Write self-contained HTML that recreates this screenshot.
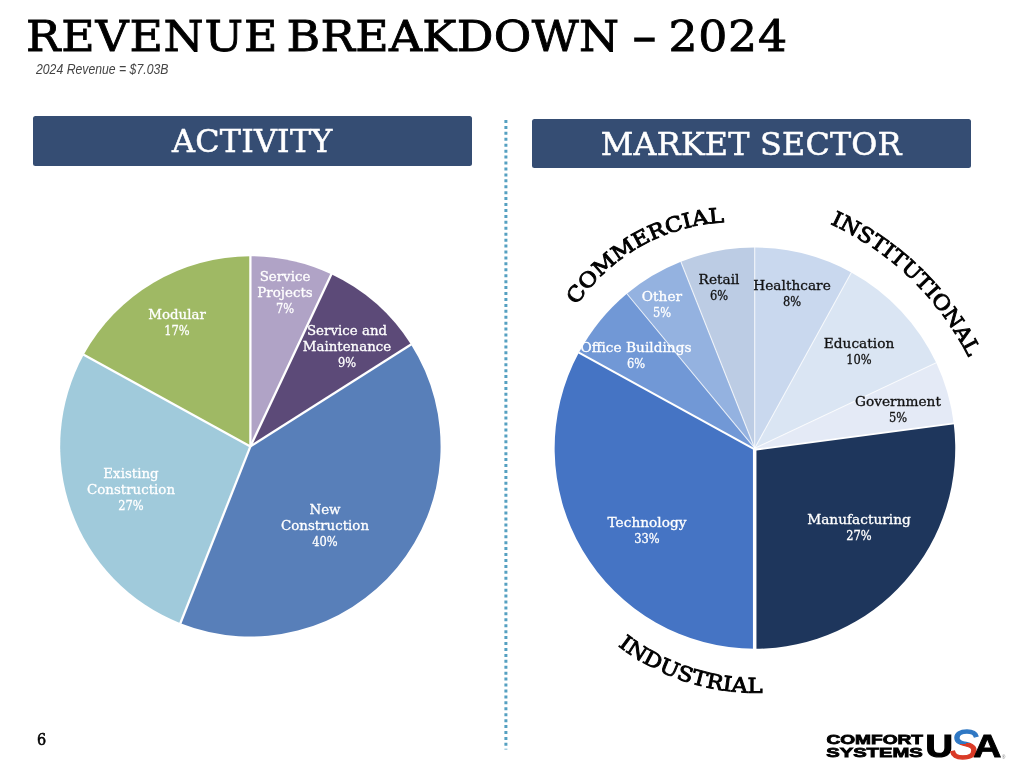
<!DOCTYPE html>
<html lang="en"><head><meta charset="utf-8"><title>Revenue Breakdown – 2024</title>
<style>
html,body{margin:0;padding:0;background:#fff;}
body{width:1024px;height:774px;position:relative;overflow:hidden;font-family:"DejaVu Serif", "Liberation Serif", serif;}
.abs{position:absolute;white-space:nowrap;}
#title{left:26px;top:8px;font-size:45.8px;line-height:54px;color:#000;-webkit-text-stroke:0.9px #000;transform:scaleY(0.945);transform-origin:0 41.5px;}
#sub{left:35.5px;top:59.5px;font-family:"Liberation Sans", sans-serif;font-style:italic;font-size:15.5px;line-height:18px;color:#444;transform:scaleX(0.79);transform-origin:0 0;}
.bar{position:absolute;background:#354d73;border-radius:2.5px;color:#fff;text-align:center;font-size:31.8px;letter-spacing:0.2px;-webkit-text-stroke:0.5px #fff;}
#bar1{left:33px;top:116.2px;width:438.6px;height:49.7px;line-height:50px;}
#bar2{left:532px;top:118.6px;width:438.6px;height:49.5px;line-height:50px;}
#pg{left:36.5px;top:728.5px;font-size:17px;line-height:20px;color:#000;transform:scaleX(0.85);transform-origin:0 0;-webkit-text-stroke:0.6px #000;}
svg text{font-family:"DejaVu Serif", "Liberation Serif", serif;}
svg .lg text{font-family:"Liberation Sans", sans-serif;}
</style></head><body>
<div id="title" class="abs"><span style="letter-spacing:0.8px">REVENUE</span> <span style="letter-spacing:0.3px;margin-left:-6.2px">BREAKDOWN</span> <span style="-webkit-text-stroke:1.7px #000;margin-left:-1.1px">–</span> <span style="letter-spacing:0.7px;margin-left:-2px">2024</span></div>
<div id="sub" class="abs">2024 Revenue = $7.03B</div>
<div id="bar1" class="bar">ACTIVITY</div>
<div id="bar2" class="bar">MARKET SECTOR</div>
<svg class="abs" style="left:0;top:0" width="1024" height="774" viewBox="0 0 1024 774">
<defs><path id="pc" d="M571.45,313.77 A189.60,189.60 0 0 1 734.13,222.10"/><path id="pi" d="M816.10,217.72 A291.00,291.00 0 0 1 974.96,371.13"/><path id="pd" d="M608.78,638.28 A225.00,225.00 0 0 0 774.33,691.91"/></defs>
<line x1="505.9" y1="120" x2="505.9" y2="749.6" stroke="#55a0c1" stroke-width="3" stroke-dasharray="3 2.932"/>
<path d="M250.40,446.40 L250.40,256.20 A190.20,190.20 0 0 1 331.38,274.30 Z" fill="#b0a3c6"/>
<path d="M250.40,446.40 L331.38,274.30 A190.20,190.20 0 0 1 410.99,344.49 Z" fill="#5c4a78"/>
<path d="M250.40,446.40 L410.99,344.49 A190.20,190.20 0 0 1 180.38,623.24 Z" fill="#587fb9"/>
<path d="M250.40,446.40 L180.38,623.24 A190.20,190.20 0 0 1 83.73,354.77 Z" fill="#a0cadb"/>
<path d="M250.40,446.40 L83.73,354.77 A190.20,190.20 0 0 1 250.40,256.20 Z" fill="#9fb964"/>
<line x1="250.40" y1="446.40" x2="250.40" y2="255.70" stroke="#fff" stroke-width="2.3" stroke-linecap="butt"/>
<line x1="250.40" y1="446.40" x2="331.60" y2="273.85" stroke="#fff" stroke-width="2.3" stroke-linecap="butt"/>
<line x1="250.40" y1="446.40" x2="411.41" y2="344.22" stroke="#fff" stroke-width="2.3" stroke-linecap="butt"/>
<line x1="250.40" y1="446.40" x2="180.20" y2="623.71" stroke="#fff" stroke-width="2.3" stroke-linecap="butt"/>
<line x1="250.40" y1="446.40" x2="83.29" y2="354.53" stroke="#fff" stroke-width="2.3" stroke-linecap="butt"/>
<path d="M754.70,448.20 L754.70,247.60 A200.60,200.60 0 0 1 851.34,272.41 L754.70,448.20 Z" fill="#c9d8ee"/>
<path d="M754.70,448.20 L851.34,272.41 A200.60,200.60 0 0 1 936.21,362.79 L754.70,448.20 Z" fill="#dae5f3"/>
<path d="M754.70,448.20 L936.21,362.79 A200.60,200.60 0 0 1 953.72,423.46 L754.70,449.80 Z" fill="#e4eaf6"/>
<path d="M754.70,449.80 L953.72,423.46 A200.60,200.60 0 0 1 754.70,648.80 L754.70,448.20 Z" fill="#1e365c"/>
<path d="M754.70,448.20 L754.70,648.80 A200.60,200.60 0 0 1 578.91,352.56 L754.70,449.40 Z" fill="#4574c4"/>
<path d="M754.70,449.40 L578.91,352.56 A200.60,200.60 0 0 1 626.83,293.64 L754.70,448.20 Z" fill="#7198d6"/>
<path d="M754.70,448.20 L626.83,293.64 A200.60,200.60 0 0 1 680.85,261.69 L754.70,448.20 Z" fill="#94b2e0"/>
<path d="M754.70,448.20 L680.85,261.69 A200.60,200.60 0 0 1 754.70,247.60 L754.70,448.20 Z" fill="#bccce4"/>
<line x1="754.70" y1="448.20" x2="754.70" y2="247.10" stroke="#fff" stroke-opacity="0.7" stroke-width="1.15"/>
<line x1="754.70" y1="448.20" x2="851.58" y2="271.97" stroke="#fff" stroke-opacity="0.7" stroke-width="1.15"/>
<line x1="754.70" y1="448.20" x2="936.66" y2="362.58" stroke="#fff" stroke-opacity="0.7" stroke-width="1.15"/>
<line x1="754.70" y1="449.80" x2="954.21" y2="423.40" stroke="#fff" stroke-width="1.9"/>
<line x1="754.70" y1="448.20" x2="754.70" y2="649.30" stroke="#fff" stroke-width="3.5"/>
<line x1="754.70" y1="449.40" x2="578.47" y2="352.32" stroke="#fff" stroke-width="2.1"/>
<line x1="754.70" y1="448.20" x2="626.51" y2="293.25" stroke="#fff" stroke-opacity="0.7" stroke-width="1.15"/>
<line x1="754.70" y1="448.20" x2="680.67" y2="261.22" stroke="#fff" stroke-opacity="0.7" stroke-width="1.15"/>
<text transform="translate(285,280.7) scale(1.03,1)" text-anchor="middle" fill="#fff" stroke="#fff" stroke-width="0.3" font-size="13.0">Service</text>
<text transform="translate(285,297.0) scale(1.03,1)" text-anchor="middle" fill="#fff" stroke="#fff" stroke-width="0.3" font-size="13.0">Projects</text>
<text transform="translate(285,313.3) scale(0.88,1)" text-anchor="middle" fill="#fff" stroke="#fff" stroke-width="0.3" font-size="13.0">7%</text>
<text transform="translate(347,334.7) scale(1.03,1)" text-anchor="middle" fill="#fff" stroke="#fff" stroke-width="0.3" font-size="13.0">Service and</text>
<text transform="translate(347,351.0) scale(1.03,1)" text-anchor="middle" fill="#fff" stroke="#fff" stroke-width="0.3" font-size="13.0">Maintenance</text>
<text transform="translate(347,367.3) scale(0.88,1)" text-anchor="middle" fill="#fff" stroke="#fff" stroke-width="0.3" font-size="13.0">9%</text>
<text transform="translate(177,318.7) scale(1.03,1)" text-anchor="middle" fill="#fff" stroke="#fff" stroke-width="0.3" font-size="13.0">Modular</text>
<text transform="translate(177,335.0) scale(0.88,1)" text-anchor="middle" fill="#fff" stroke="#fff" stroke-width="0.3" font-size="13.0">17%</text>
<text transform="translate(131,477.7) scale(1.03,1)" text-anchor="middle" fill="#fff" stroke="#fff" stroke-width="0.3" font-size="13.0">Existing</text>
<text transform="translate(131,494.0) scale(1.03,1)" text-anchor="middle" fill="#fff" stroke="#fff" stroke-width="0.3" font-size="13.0">Construction</text>
<text transform="translate(131,510.3) scale(0.88,1)" text-anchor="middle" fill="#fff" stroke="#fff" stroke-width="0.3" font-size="13.0">27%</text>
<text transform="translate(325,513.7) scale(1.03,1)" text-anchor="middle" fill="#fff" stroke="#fff" stroke-width="0.3" font-size="13.0">New</text>
<text transform="translate(325,530.0) scale(1.03,1)" text-anchor="middle" fill="#fff" stroke="#fff" stroke-width="0.3" font-size="13.0">Construction</text>
<text transform="translate(325,546.3) scale(0.88,1)" text-anchor="middle" fill="#fff" stroke="#fff" stroke-width="0.3" font-size="13.0">40%</text>
<text transform="translate(719,283.7) scale(1.055,1)" text-anchor="middle" fill="#111" stroke="#111" stroke-width="0.3" font-size="13.0">Retail</text>
<text transform="translate(719,300.0) scale(0.88,1)" text-anchor="middle" fill="#111" stroke="#111" stroke-width="0.3" font-size="13.0">6%</text>
<text transform="translate(662,300.7) scale(1.055,1)" text-anchor="middle" fill="#fff" stroke="#fff" stroke-width="0.3" font-size="13.0">Other</text>
<text transform="translate(662,317.0) scale(0.88,1)" text-anchor="middle" fill="#fff" stroke="#fff" stroke-width="0.3" font-size="13.0">5%</text>
<text transform="translate(636,351.7) scale(1.055,1)" text-anchor="middle" fill="#fff" stroke="#fff" stroke-width="0.3" font-size="13.0">Office Buildings</text>
<text transform="translate(636,368.0) scale(0.88,1)" text-anchor="middle" fill="#fff" stroke="#fff" stroke-width="0.3" font-size="13.0">6%</text>
<text transform="translate(792,289.7) scale(1.055,1)" text-anchor="middle" fill="#111" stroke="#111" stroke-width="0.3" font-size="13.0">Healthcare</text>
<text transform="translate(792,306.0) scale(0.88,1)" text-anchor="middle" fill="#111" stroke="#111" stroke-width="0.3" font-size="13.0">8%</text>
<text transform="translate(859,347.7) scale(1.055,1)" text-anchor="middle" fill="#111" stroke="#111" stroke-width="0.3" font-size="13.0">Education</text>
<text transform="translate(859,364.0) scale(0.88,1)" text-anchor="middle" fill="#111" stroke="#111" stroke-width="0.3" font-size="13.0">10%</text>
<text transform="translate(898,405.7) scale(1.055,1)" text-anchor="middle" fill="#111" stroke="#111" stroke-width="0.3" font-size="13.0">Government</text>
<text transform="translate(898,422.0) scale(0.88,1)" text-anchor="middle" fill="#111" stroke="#111" stroke-width="0.3" font-size="13.0">5%</text>
<text transform="translate(859,523.7) scale(1.055,1)" text-anchor="middle" fill="#fff" stroke="#fff" stroke-width="0.3" font-size="13.0">Manufacturing</text>
<text transform="translate(859,540.0) scale(0.88,1)" text-anchor="middle" fill="#fff" stroke="#fff" stroke-width="0.3" font-size="13.0">27%</text>
<text transform="translate(647,526.7) scale(1.055,1)" text-anchor="middle" fill="#fff" stroke="#fff" stroke-width="0.3" font-size="13.0">Technology</text>
<text transform="translate(647,543.0) scale(0.88,1)" text-anchor="middle" fill="#fff" stroke="#fff" stroke-width="0.3" font-size="13.0">33%</text>
<text font-size="20.5" fill="#000" stroke="#000" stroke-width="0.9"><textPath href="#pc" startOffset="9.93" textLength="175.4" lengthAdjust="spacingAndGlyphs">COMMERCIAL</textPath></text>
<text font-size="20.5" fill="#000" stroke="#000" stroke-width="0.9"><textPath href="#pi" startOffset="15.24" textLength="196.0" lengthAdjust="spacingAndGlyphs">INSTITUTIONAL</textPath></text>
<text font-size="20.5" fill="#000" stroke="#000" stroke-width="0.9"><textPath href="#pd" startOffset="11.78" textLength="155.1" lengthAdjust="spacingAndGlyphs">INDUSTRIAL</textPath></text>
<defs><linearGradient id="sg" gradientUnits="userSpaceOnUse" x1="960" y1="728" x2="966" y2="760"><stop offset="0" stop-color="#2f78c4"/><stop offset="0.5" stop-color="#2f78c4"/><stop offset="0.5" stop-color="#d93a26"/><stop offset="1" stop-color="#d93a26"/></linearGradient></defs>
<g class="lg" font-weight="bold" fill="#000">
<text x="826.4" y="744.4" font-size="13.3" textLength="96.6" lengthAdjust="spacingAndGlyphs" stroke="#000" stroke-width="0.8">COMFORT</text>
<text x="826.2" y="756.9" font-size="13.4" textLength="96.6" lengthAdjust="spacingAndGlyphs" stroke="#000" stroke-width="0.8">SYSTEMS</text>
<text x="925.6" y="756.8" font-size="30.6" textLength="27.4" lengthAdjust="spacingAndGlyphs" stroke="#000" stroke-width="1.2">U</text>
<text x="949.6" y="759.3" font-size="43" font-style="italic" font-weight="normal" textLength="29" lengthAdjust="spacingAndGlyphs" fill="url(#sg)" stroke="url(#sg)" stroke-width="1.3">S</text>
<text x="973.3" y="756.8" font-size="30.6" textLength="28.2" lengthAdjust="spacingAndGlyphs" stroke="#000" stroke-width="0.8">A</text>
<text x="1002" y="758.5" font-size="4.5" font-weight="normal" fill="#777">®</text>
</g>
</svg>
<div id="pg" class="abs">6</div>
<!--LOGO-->
</body></html>
